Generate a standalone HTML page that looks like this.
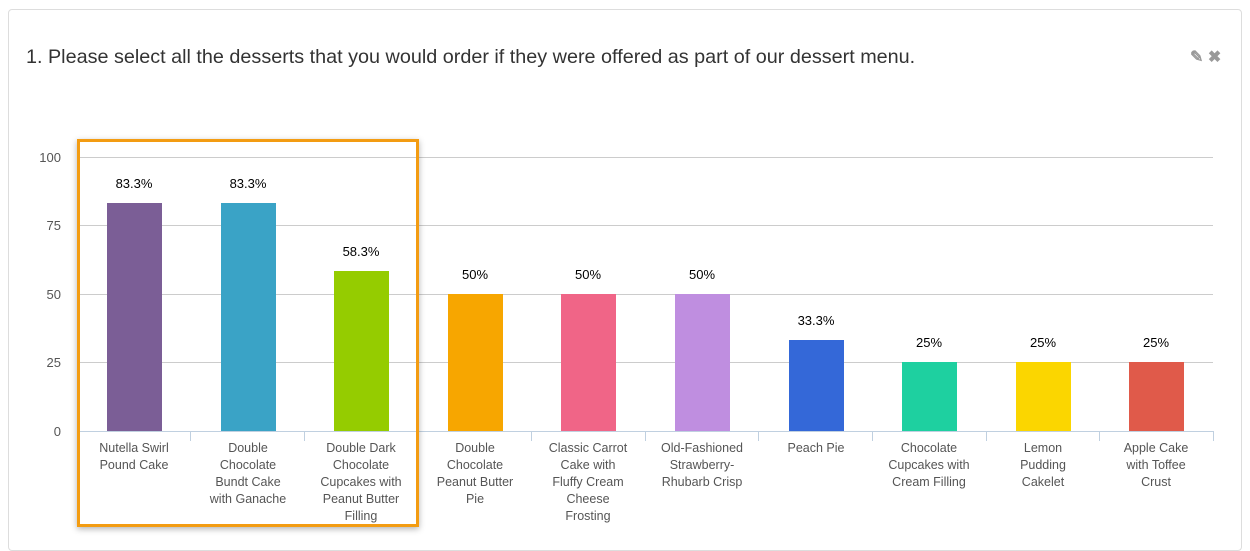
<!DOCTYPE html>
<html><head><style>
body{margin:0;width:1250px;height:533px;background:#fff;font-family:"Liberation Sans",sans-serif;overflow:hidden;position:relative}
.card{position:absolute;left:8px;top:9px;width:1232px;height:540px;border:1px solid #ddd;border-radius:4px;background:#fff}
.title{position:absolute;left:26px;top:46px;font-size:19.8px;color:#333}
.icons{position:absolute;left:1190px;top:47px;color:#999;font-size:16px;font-weight:bold}
.box{position:absolute;left:77px;top:139px;width:336px;height:382px;border:3px solid #f39c12;box-shadow:0 2px 6px rgba(0,0,0,.3)}
</style></head><body>
<div class="card"></div>
<div class="title">1. Please select all the desserts that you would order if they were offered as part of our dessert menu.</div>
<div class="icons">✎ ✖</div>
<svg width="1250" height="533" style="position:absolute;left:0;top:0" font-family="Liberation Sans, sans-serif">
<g stroke="#ccc" stroke-width="1">
<line x1="77" x2="1213" y1="157.5" y2="157.5"/>
<line x1="77" x2="1213" y1="225.5" y2="225.5"/>
<line x1="77" x2="1213" y1="294.5" y2="294.5"/>
<line x1="77" x2="1213" y1="362.5" y2="362.5"/>
</g>
<g font-size="13" fill="#555" text-anchor="end">
<text x="61" y="162">100</text><text x="61" y="230">75</text><text x="61" y="299">50</text><text x="61" y="367">25</text><text x="61" y="436">0</text>
</g>
<g>
<rect x="107" y="203" width="55" height="228" fill="#7b5e96"/>
<rect x="221" y="203" width="55" height="228" fill="#3aa3c6"/>
<rect x="334" y="271" width="55" height="160" fill="#95cc00"/>
<rect x="448" y="294" width="55" height="137" fill="#f7a600"/>
<rect x="561" y="294" width="55" height="137" fill="#f06587"/>
<rect x="675" y="294" width="55" height="137" fill="#bf8ee0"/>
<rect x="789" y="340" width="55" height="91" fill="#3468d8"/>
<rect x="902" y="362" width="55" height="69" fill="#1ed0a0"/>
<rect x="1016" y="362" width="55" height="69" fill="#fbd600"/>
<rect x="1129" y="362" width="55" height="69" fill="#e05a4a"/>
</g>
<g font-size="13" fill="#000" text-anchor="middle">
<text x="134" y="188">83.3%</text><text x="248" y="188">83.3%</text><text x="361" y="256">58.3%</text><text x="475" y="279">50%</text><text x="588" y="279">50%</text><text x="702" y="279">50%</text><text x="816" y="325">33.3%</text><text x="929" y="347">25%</text><text x="1043" y="347">25%</text><text x="1156" y="347">25%</text>
</g>
<g stroke="#c0d0e0" stroke-width="1">
<line x1="77" x2="1213" y1="431.5" y2="431.5"/>
<line x1="190.5" x2="190.5" y1="431" y2="441"/><line x1="304.5" x2="304.5" y1="431" y2="441"/><line x1="418.5" x2="418.5" y1="431" y2="441"/><line x1="531.5" x2="531.5" y1="431" y2="441"/><line x1="645.5" x2="645.5" y1="431" y2="441"/><line x1="758.5" x2="758.5" y1="431" y2="441"/><line x1="872.5" x2="872.5" y1="431" y2="441"/><line x1="986.5" x2="986.5" y1="431" y2="441"/><line x1="1099.5" x2="1099.5" y1="431" y2="441"/><line x1="1213.5" x2="1213.5" y1="431" y2="441"/>
</g>
<g font-size="12.5" fill="#555" text-anchor="middle">
<text x="134" y="452">Nutella Swirl</text><text x="134" y="469">Pound Cake</text>
<text x="248" y="452">Double</text><text x="248" y="469">Chocolate</text><text x="248" y="486">Bundt Cake</text><text x="248" y="503">with Ganache</text>
<text x="361" y="452">Double Dark</text><text x="361" y="469">Chocolate</text><text x="361" y="486">Cupcakes with</text><text x="361" y="503">Peanut Butter</text><text x="361" y="520">Filling</text>
<text x="475" y="452">Double</text><text x="475" y="469">Chocolate</text><text x="475" y="486">Peanut Butter</text><text x="475" y="503">Pie</text>
<text x="588" y="452">Classic Carrot</text><text x="588" y="469">Cake with</text><text x="588" y="486">Fluffy Cream</text><text x="588" y="503">Cheese</text><text x="588" y="520">Frosting</text>
<text x="702" y="452">Old-Fashioned</text><text x="702" y="469">Strawberry-</text><text x="702" y="486">Rhubarb Crisp</text>
<text x="816" y="452">Peach Pie</text>
<text x="929" y="452">Chocolate</text><text x="929" y="469">Cupcakes with</text><text x="929" y="486">Cream Filling</text>
<text x="1043" y="452">Lemon</text><text x="1043" y="469">Pudding</text><text x="1043" y="486">Cakelet</text>
<text x="1156" y="452">Apple Cake</text><text x="1156" y="469">with Toffee</text><text x="1156" y="486">Crust</text>
</g>
</svg>
<div class="box"></div>
</body></html>
